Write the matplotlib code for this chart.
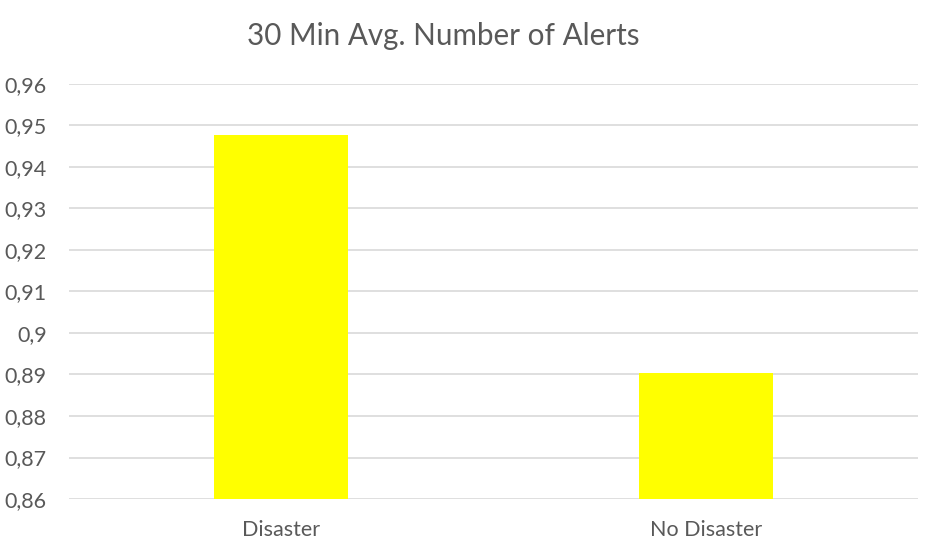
import matplotlib
matplotlib.use('Agg')
import matplotlib.pyplot as plt
from matplotlib.ticker import FuncFormatter

categories = ['Disaster', 'No Disaster']
avg_alerts = [0.9477, 0.8903]
y_ticks = [0.86, 0.87, 0.88, 0.89, 0.90, 0.91, 0.92, 0.93, 0.94, 0.95, 0.96]

TEXT_COLOR = '#595959'
GRID_COLOR = '#D9D9D9'

plt.rcParams['font.family'] = ['Lato', 'DejaVu Sans']

fig = plt.figure(figsize=(9.32, 5.56), dpi=100)
ax = fig.add_axes([0.074, 0.1025, 0.911, 0.7465])

x = range(len(categories))
ax.bar(x, [v - y_ticks[0] for v in avg_alerts], bottom=y_ticks[0], width=0.315,
       color='#FFFF00', zorder=2)

ax.set_xlim(-0.5, len(categories) - 0.5)
ax.set_ylim(y_ticks[0], y_ticks[-1])
ax.set_yticks(y_ticks)
# comma decimal separator, trailing zeros dropped
ax.yaxis.set_major_formatter(FuncFormatter(lambda v, pos: ('%g' % round(v, 2)).replace('.', ',')))
ax.set_xticks(list(x))
ax.set_xticklabels(categories)

ax.grid(axis='y', color=GRID_COLOR, linewidth=1.2, zorder=0)
for side in ['top', 'right', 'left', 'bottom']:
    ax.spines[side].set_visible(False)
ax.tick_params(axis='both', length=0, colors=TEXT_COLOR, labelsize=15.5)
ax.tick_params(axis='y', pad=16)
ax.tick_params(axis='x', pad=15)

fig.text(0.476, 0.935, '30 Min Avg. Number of Alerts', ha='center', va='center',
         fontsize=21.3, color=TEXT_COLOR)

fig.savefig('out.png', dpi=100)
